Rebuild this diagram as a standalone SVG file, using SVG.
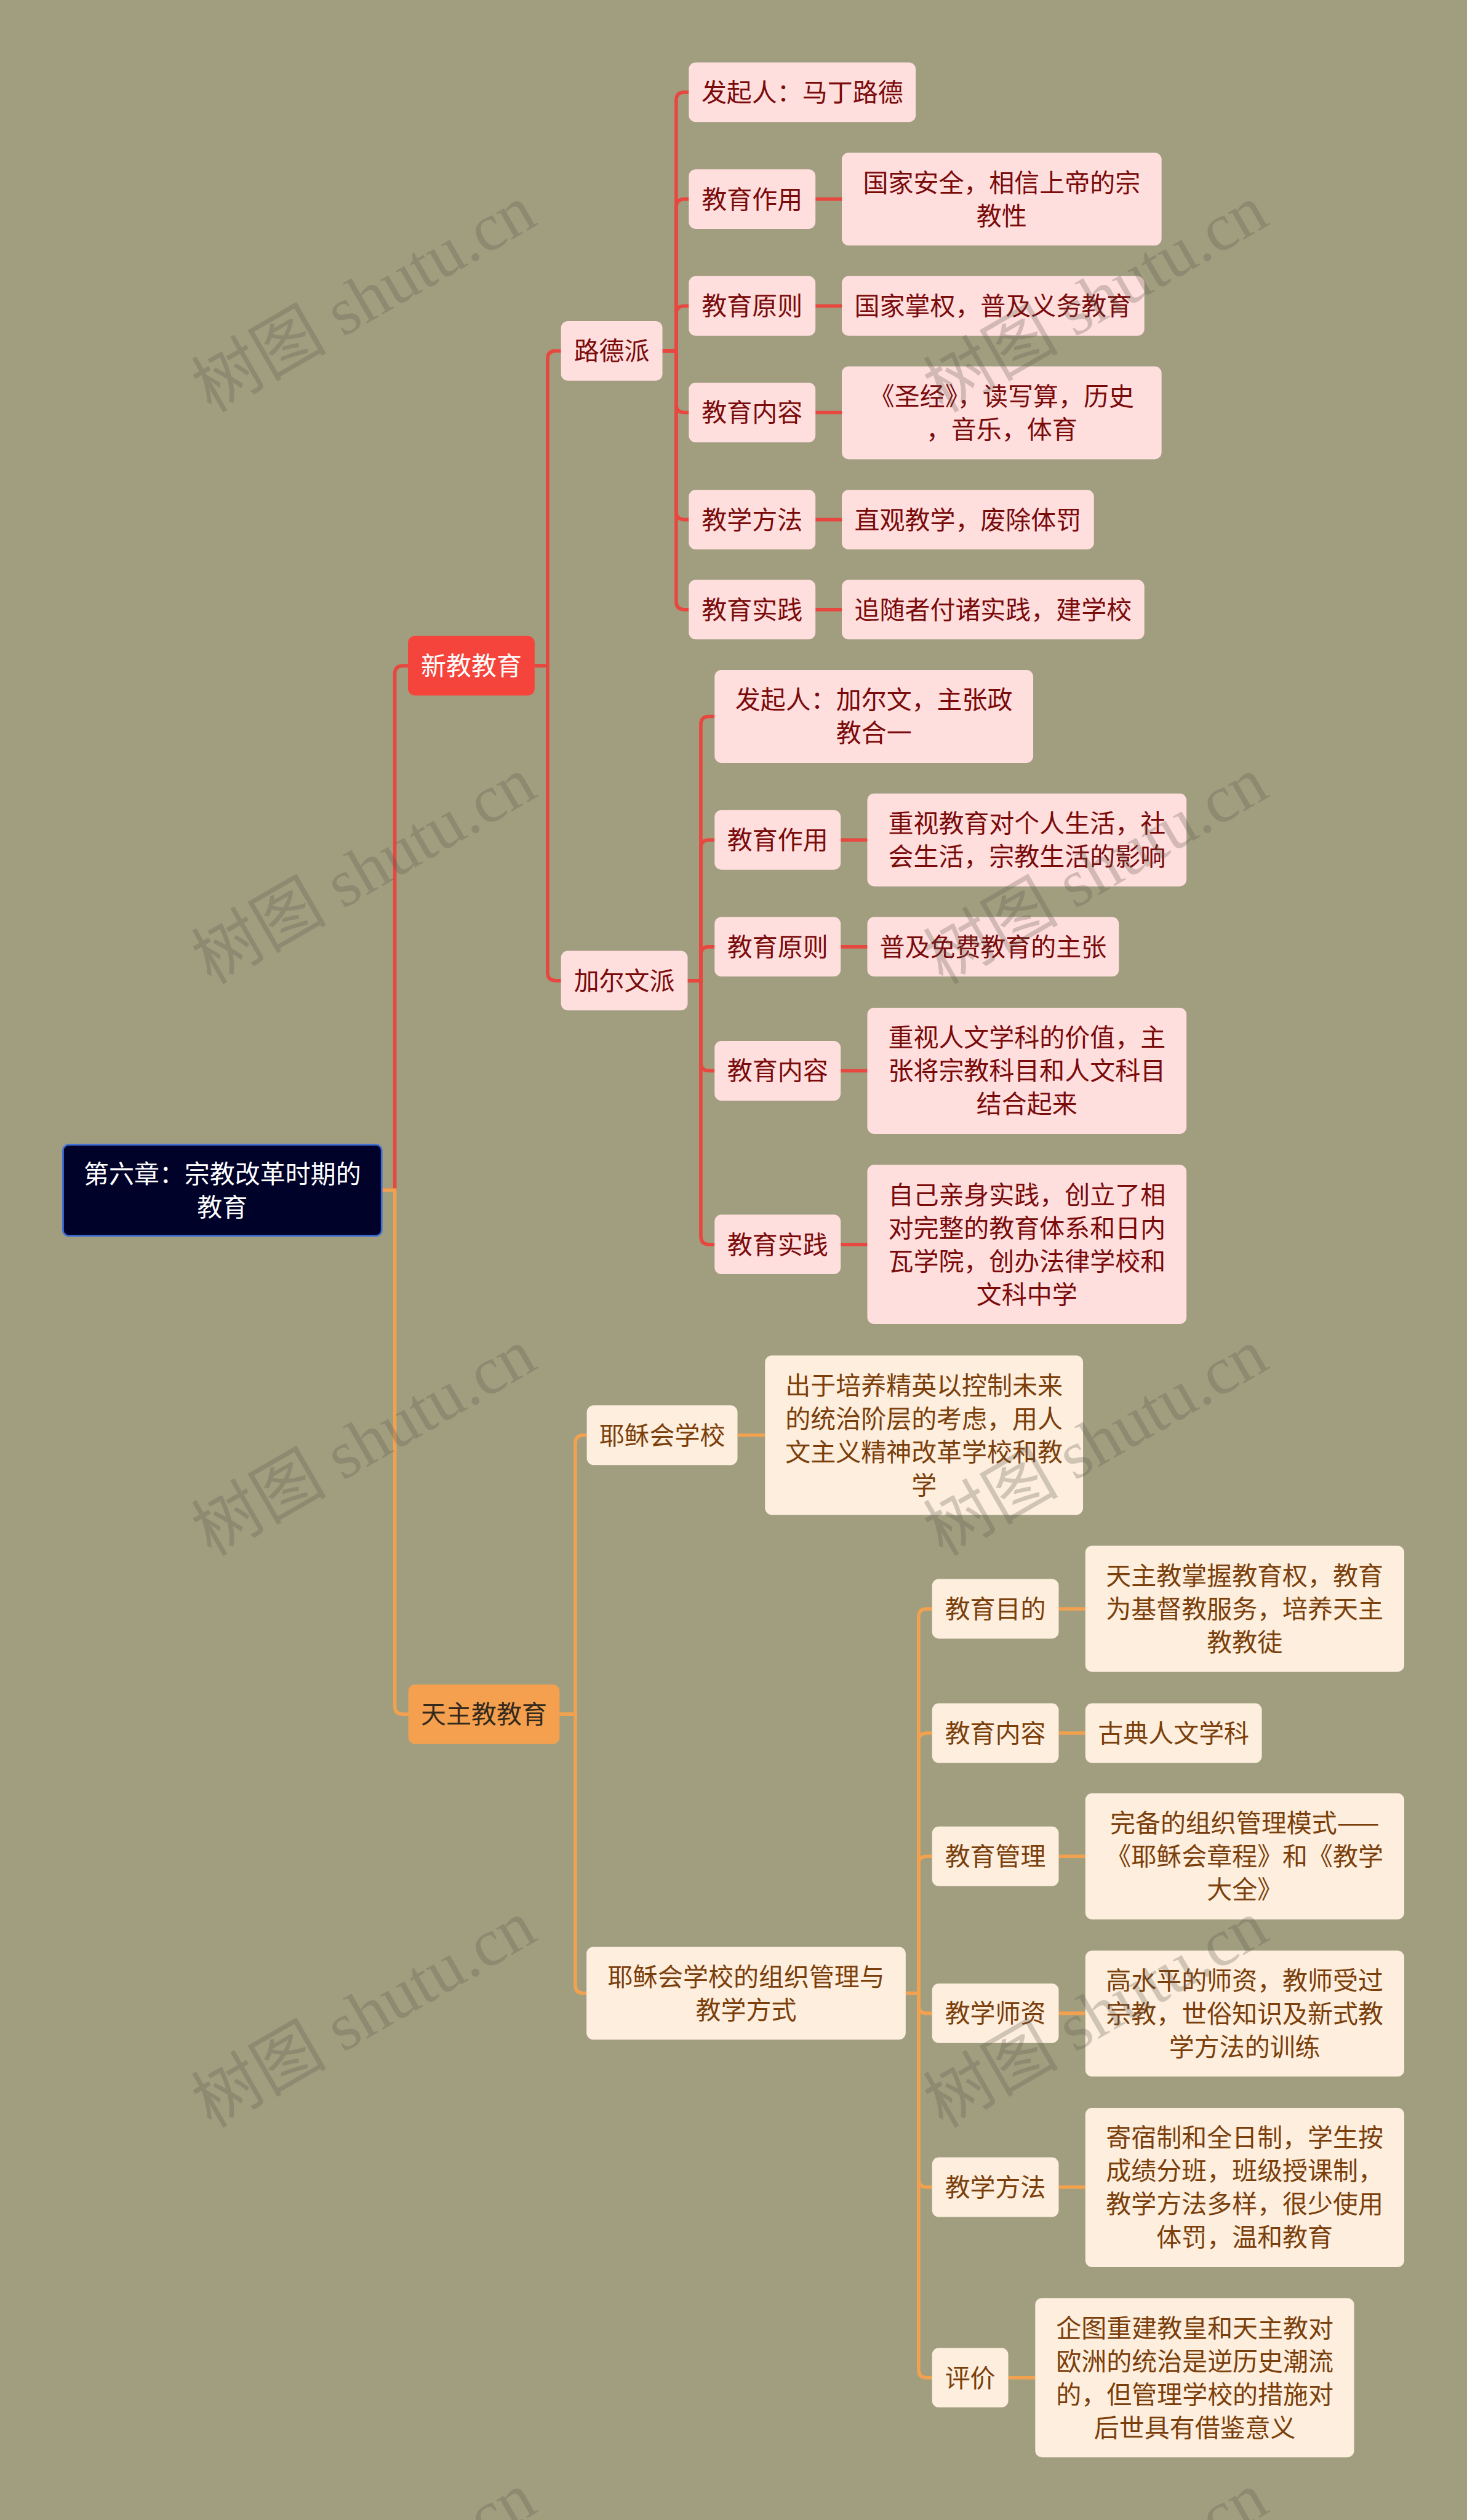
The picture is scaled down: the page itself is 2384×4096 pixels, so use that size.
<svg xmlns="http://www.w3.org/2000/svg" width="2384" height="4096" viewBox="0 0 2384 4096">
<style>
.t{font-family:"Noto Sans CJK SC","Noto Sans",sans-serif;font-size:44px;text-anchor:middle}
.pk rect{fill:#FFDEDE}
.pk text{fill:#7A0B0B}
.cr rect{fill:#FDEEDD}
.cr text{fill:#7B3F0C}
.lr{fill:none;stroke:#E8473F;stroke-width:6}
.lo{fill:none;stroke:#F2A14F;stroke-width:6}
.wm{font-family:"Liberation Serif","Noto Sans CJK SC",serif;font-size:118px;fill:#5B584B;opacity:0.27;text-anchor:middle}
</style>
<rect x="0" y="0" width="2384" height="4096" fill="#A19E80"/>
<g transform="scale(0.93125)">
<g id="connectors">
<path class="lr" d="M666 2077H689V1176Q689 1162 703 1162H712"/>
<path class="lo" d="M666 2077H689V2978Q689 2992 703 2992H713"/>
<path class="lr" d="M933 1162H955.5V626.5Q955.5 612.5 969.5 612.5H979"/>
<path class="lr" d="M933 1162H955.5V1697.5Q955.5 1711.5 969.5 1711.5H979"/>
<path class="lr" d="M1156 612.5H1180V175Q1180 161 1194 161H1202"/>
<path class="lr" d="M1156 612.5H1180V361.5Q1180 347.5 1194 347.5H1202"/>
<path class="lr" d="M1156 612.5H1180V548Q1180 534 1194 534H1202"/>
<path class="lr" d="M1156 612.5H1180V706Q1180 720 1194 720H1202"/>
<path class="lr" d="M1156 612.5H1180V893Q1180 907 1194 907H1202"/>
<path class="lr" d="M1156 612.5H1180V1050Q1180 1064 1194 1064H1202"/>
<path class="lr" d="M1423 347.5H1469M1423 534H1469M1423 720H1469M1423 907H1469M1423 1064H1469"/>
<path class="lr" d="M1200 1711.5H1223V1264.5Q1223 1250.5 1237 1250.5H1247"/>
<path class="lr" d="M1200 1711.5H1223V1480Q1223 1466 1237 1466H1247"/>
<path class="lr" d="M1200 1711.5H1223V1666.5Q1223 1652.5 1237 1652.5H1247"/>
<path class="lr" d="M1200 1711.5H1223V1855Q1223 1869 1237 1869H1247"/>
<path class="lr" d="M1200 1711.5H1223V2158Q1223 2172 1237 2172H1247"/>
<path class="lr" d="M1467 1466H1514M1467 1652.5H1514M1467 1869H1514M1467 2172H1514"/>
<path class="lo" d="M976.5 2992H1004V2519Q1004 2505 1018 2505H1024"/>
<path class="lo" d="M976.5 2992H1004V3465Q1004 3479 1018 3479H1024"/>
<path class="lo" d="M1287 2505H1335"/>
<path class="lo" d="M1580.5 3479H1603V2822Q1603 2808 1617 2808H1627"/>
<path class="lo" d="M1580.5 3479H1603V3039Q1603 3025 1617 3025H1627"/>
<path class="lo" d="M1580.5 3479H1603V3254Q1603 3240 1617 3240H1627"/>
<path class="lo" d="M1580.5 3479H1603V3500Q1603 3514 1617 3514H1627"/>
<path class="lo" d="M1580.5 3479H1603V3803.5Q1603 3817.5 1617 3817.5H1627"/>
<path class="lo" d="M1580.5 3479H1603V4136Q1603 4150 1617 4150H1627"/>
<path class="lo" d="M1847.5 2808H1894M1847.5 3025H1894M1847.5 3240H1894M1847.5 3514H1894M1847.5 3817.5H1894M1759.5 4150H1807"/>
</g>
<g id="root"><rect x="110" y="1998" width="556" height="159" rx="10" fill="#00022A" stroke="#3D6FD6" stroke-width="3"/><text class="t" x="388" y="2064.5" fill="#FFFFFF">第六章：宗教改革时期的</text><text class="t" x="388" y="2122.5" fill="#FFFFFF">教育</text></g>
<g id="n-xinjiao"><rect x="712" y="1110" width="221" height="104" rx="12" fill="#F5443C"/><text class="t" x="822.5" y="1178" fill="#FFFFFF">新教教育</text></g>
<g id="n-lude" class="pk"><rect x="979" y="560.5" width="177" height="104" rx="12"/><text class="t" x="1067.5" y="628.5">路德派</text></g>
<g id="n-jiaerwen" class="pk"><rect x="979" y="1659.5" width="221" height="104" rx="12"/><text class="t" x="1089.5" y="1727.5">加尔文派</text></g>
<g id="n-l1" class="pk"><rect x="1202" y="109" width="396" height="104" rx="12"/><text class="t" x="1400" y="177">发起人：马丁路德</text></g>
<g id="n-l2" class="pk"><rect x="1202" y="295.5" width="221" height="104" rx="12"/><text class="t" x="1312.5" y="363.5">教育作用</text></g>
<g id="n-l3" class="pk"><rect x="1202" y="482" width="221" height="104" rx="12"/><text class="t" x="1312.5" y="550">教育原则</text></g>
<g id="n-l4" class="pk"><rect x="1202" y="668" width="221" height="104" rx="12"/><text class="t" x="1312.5" y="736">教育内容</text></g>
<g id="n-l5" class="pk"><rect x="1202" y="855" width="221" height="104" rx="12"/><text class="t" x="1312.5" y="923">教学方法</text></g>
<g id="n-l6" class="pk"><rect x="1202" y="1012" width="221" height="104" rx="12"/><text class="t" x="1312.5" y="1080">教育实践</text></g>
<g id="n-l2d" class="pk"><rect x="1469" y="266.5" width="558" height="162" rx="12"/><text class="t" x="1748" y="334.5">国家安全，相信上帝的宗</text><text class="t" x="1748" y="392.5">教性</text></g>
<g id="n-l3d" class="pk"><rect x="1469" y="482" width="528" height="104" rx="12"/><text class="t" x="1733" y="550">国家掌权，普及义务教育</text></g>
<g id="n-l4d" class="pk"><rect x="1469" y="639.5" width="558" height="162" rx="12"/><text class="t" x="1748" y="707.5">《圣经》，读写算，历史</text><text class="t" x="1748" y="765.5">，音乐，体育</text></g>
<g id="n-l5d" class="pk"><rect x="1469" y="855" width="440" height="104" rx="12"/><text class="t" x="1689" y="923">直观教学，废除体罚</text></g>
<g id="n-l6d" class="pk"><rect x="1469" y="1012" width="528" height="104" rx="12"/><text class="t" x="1733" y="1080">追随者付诸实践，建学校</text></g>
<g id="n-c1" class="pk"><rect x="1247" y="1169.5" width="556" height="162" rx="12"/><text class="t" x="1525" y="1237.5">发起人：加尔文，主张政</text><text class="t" x="1525" y="1295.5">教合一</text></g>
<g id="n-c2" class="pk"><rect x="1247" y="1414" width="220" height="104" rx="12"/><text class="t" x="1357" y="1482">教育作用</text></g>
<g id="n-c3" class="pk"><rect x="1247" y="1600.5" width="220" height="104" rx="12"/><text class="t" x="1357" y="1668.5">教育原则</text></g>
<g id="n-c4" class="pk"><rect x="1247" y="1817" width="220" height="104" rx="12"/><text class="t" x="1357" y="1885">教育内容</text></g>
<g id="n-c5" class="pk"><rect x="1247" y="2120" width="220" height="104" rx="12"/><text class="t" x="1357" y="2188">教育实践</text></g>
<g id="n-c2d" class="pk"><rect x="1513.5" y="1385" width="557" height="162" rx="12"/><text class="t" x="1792" y="1453">重视教育对个人生活，社</text><text class="t" x="1792" y="1511">会生活，宗教生活的影响</text></g>
<g id="n-c3d" class="pk"><rect x="1513.5" y="1600.5" width="439" height="104" rx="12"/><text class="t" x="1733" y="1668.5">普及免费教育的主张</text></g>
<g id="n-c4d" class="pk"><rect x="1513.5" y="1759" width="557" height="220" rx="12"/><text class="t" x="1792" y="1827">重视人文学科的价值，主</text><text class="t" x="1792" y="1885">张将宗教科目和人文科目</text><text class="t" x="1792" y="1943">结合起来</text></g>
<g id="n-c5d" class="pk"><rect x="1513.5" y="2033" width="557" height="278" rx="12"/><text class="t" x="1792" y="2101">自己亲身实践，创立了相</text><text class="t" x="1792" y="2159">对完整的教育体系和日内</text><text class="t" x="1792" y="2217">瓦学院，创办法律学校和</text><text class="t" x="1792" y="2275">文科中学</text></g>
<g id="n-tianzhu"><rect x="712.5" y="2940" width="264" height="104" rx="12" fill="#F5A04E"/><text class="t" x="844.5" y="3008" fill="#33291C">天主教教育</text></g>
<g id="n-yx" class="cr"><rect x="1024" y="2453" width="263" height="104" rx="12"/><text class="t" x="1155.5" y="2521">耶稣会学校</text></g>
<g id="n-yxd" class="cr"><rect x="1335" y="2366" width="555" height="278" rx="12"/><text class="t" x="1612.5" y="2434">出于培养精英以控制未来</text><text class="t" x="1612.5" y="2492">的统治阶层的考虑，用人</text><text class="t" x="1612.5" y="2550">文主义精神改革学校和教</text><text class="t" x="1612.5" y="2608">学</text></g>
<g id="n-yz" class="cr"><rect x="1023.5" y="3398" width="557" height="162" rx="12"/><text class="t" x="1302" y="3466">耶稣会学校的组织管理与</text><text class="t" x="1302" y="3524">教学方式</text></g>
<g id="n-k1" class="cr"><rect x="1626.5" y="2756" width="221" height="104" rx="12"/><text class="t" x="1737" y="2824">教育目的</text></g>
<g id="n-k2" class="cr"><rect x="1626.5" y="2973" width="221" height="104" rx="12"/><text class="t" x="1737" y="3041">教育内容</text></g>
<g id="n-k3" class="cr"><rect x="1626.5" y="3188" width="221" height="104" rx="12"/><text class="t" x="1737" y="3256">教育管理</text></g>
<g id="n-k4" class="cr"><rect x="1626.5" y="3462" width="221" height="104" rx="12"/><text class="t" x="1737" y="3530">教学师资</text></g>
<g id="n-k5" class="cr"><rect x="1626.5" y="3765.5" width="221" height="104" rx="12"/><text class="t" x="1737" y="3833.5">教学方法</text></g>
<g id="n-k6" class="cr"><rect x="1626.5" y="4098" width="133" height="104" rx="12"/><text class="t" x="1693" y="4166">评价</text></g>
<g id="n-k1d" class="cr"><rect x="1894" y="2698" width="556.5" height="220" rx="12"/><text class="t" x="2172" y="2766">天主教掌握教育权，教育</text><text class="t" x="2172" y="2824">为基督教服务，培养天主</text><text class="t" x="2172" y="2882">教教徒</text></g>
<g id="n-k2d" class="cr"><rect x="1894" y="2973" width="308" height="104" rx="12"/><text class="t" x="2048" y="3041">古典人文学科</text></g>
<g id="n-k3d" class="cr"><rect x="1894" y="3130" width="556.5" height="220" rx="12"/><text class="t" x="2172" y="3198">完备的组织管理模式——</text><text class="t" x="2172" y="3256">《耶稣会章程》和《教学</text><text class="t" x="2172" y="3314">大全》</text></g>
<g id="n-k4d" class="cr"><rect x="1894" y="3404.5" width="556.5" height="220" rx="12"/><text class="t" x="2172" y="3472.5">高水平的师资，教师受过</text><text class="t" x="2172" y="3530.5">宗教，世俗知识及新式教</text><text class="t" x="2172" y="3588.5">学方法的训练</text></g>
<g id="n-k5d" class="cr"><rect x="1894" y="3679" width="556.5" height="278" rx="12"/><text class="t" x="2172" y="3747">寄宿制和全日制，学生按</text><text class="t" x="2172" y="3805">成绩分班，班级授课制，</text><text class="t" x="2172" y="3863">教学方法多样，很少使用</text><text class="t" x="2172" y="3921">体罚，温和教育</text></g>
<g id="n-k6d" class="cr"><rect x="1806.5" y="4011" width="556.5" height="278" rx="12"/><text class="t" x="2085" y="4079">企图重建教皇和天主教对</text><text class="t" x="2085" y="4137">欧洲的统治是逆历史潮流</text><text class="t" x="2085" y="4195">的，但管理学校的措施对</text><text class="t" x="2085" y="4253">后世具有借鉴意义</text></g>
<g id="watermarks">
<text class="wm" transform="translate(655 556) rotate(-30)">树图 shutu.cn</text>
<text class="wm" transform="translate(1932 556) rotate(-30)">树图 shutu.cn</text>
<text class="wm" transform="translate(655 1554) rotate(-30)">树图 shutu.cn</text>
<text class="wm" transform="translate(1932 1554) rotate(-30)">树图 shutu.cn</text>
<text class="wm" transform="translate(655 2552) rotate(-30)">树图 shutu.cn</text>
<text class="wm" transform="translate(1932 2552) rotate(-30)">树图 shutu.cn</text>
<text class="wm" transform="translate(655 3550) rotate(-30)">树图 shutu.cn</text>
<text class="wm" transform="translate(1932 3550) rotate(-30)">树图 shutu.cn</text>
<text class="wm" transform="translate(655 4548) rotate(-30)">树图 shutu.cn</text>
<text class="wm" transform="translate(1932 4548) rotate(-30)">树图 shutu.cn</text>
</g>
</g>
</svg>
